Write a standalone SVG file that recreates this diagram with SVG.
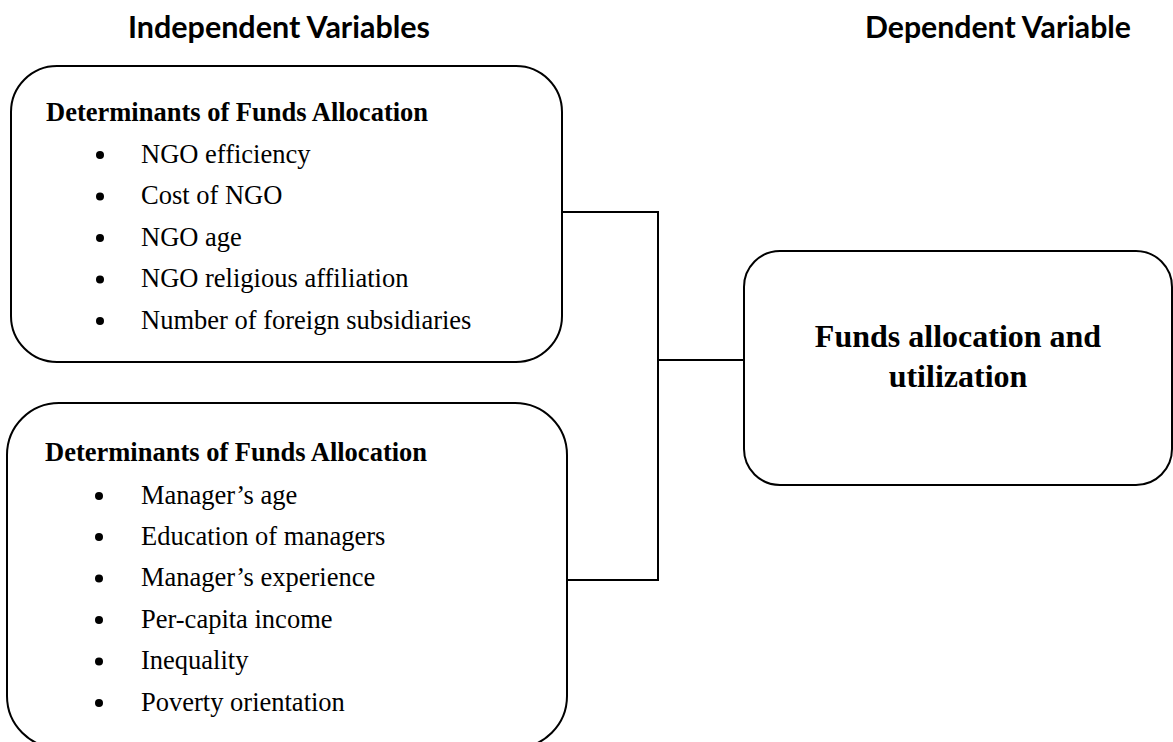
<svg xmlns="http://www.w3.org/2000/svg" width="1173" height="742" viewBox="0 0 1173 742">
<style>
.box{fill:#fff;stroke:#000;stroke-width:2}
.hdr{font-family:Lato,"Open Sans","Liberation Sans",sans-serif;font-weight:bold;font-size:31px;fill:#000}
.ttl{font-family:"Liberation Serif","Times New Roman",serif;font-weight:bold;font-size:26.5px;fill:#000}
.itm{font-family:"Liberation Serif","Times New Roman",serif;font-size:26.5px;fill:#000}
.big{font-family:"Liberation Serif","Times New Roman",serif;font-weight:bold;font-size:32px;fill:#000;text-anchor:middle}
.bul{fill:#000}
.con{fill:none;stroke:#000;stroke-width:2}
</style>
<rect width="1173" height="742" fill="#fff"/>
<g id="headers">
<text class="hdr" x="128" y="38" textLength="302" lengthAdjust="spacingAndGlyphs">Independent Variables</text>
<text class="hdr" x="865" y="38" textLength="266" lengthAdjust="spacingAndGlyphs">Dependent Variable</text>
</g>
<g id="connectors">
<polyline class="con" points="562,212 658,212 658,580 567,580"/>
<line class="con" x1="658" y1="360" x2="744" y2="360"/>
</g>
<g id="box1">
<rect class="box" x="11" y="66" width="551" height="296" rx="46" ry="46"/>
<text class="ttl" x="46" y="121">Determinants of Funds Allocation</text>
<circle class="bul" cx="100" cy="155" r="4"/><text class="itm" x="141" y="162.5">NGO efficiency</text>
<circle class="bul" cx="100" cy="196.5" r="4"/><text class="itm" x="141" y="204">Cost of NGO</text>
<circle class="bul" cx="100" cy="238" r="4"/><text class="itm" x="141" y="245.5">NGO age</text>
<circle class="bul" cx="100" cy="279.5" r="4"/><text class="itm" x="141" y="287">NGO religious affiliation</text>
<circle class="bul" cx="100" cy="321" r="4"/><text class="itm" x="141" y="328.5">Number of foreign subsidiaries</text>
</g>
<g id="box2">
<rect class="box" x="7" y="403" width="560" height="345" rx="52" ry="52"/>
<text class="ttl" x="45" y="461">Determinants of Funds Allocation</text>
<circle class="bul" cx="99" cy="496" r="4"/><text class="itm" x="141" y="503.5">Manager’s age</text>
<circle class="bul" cx="99" cy="537" r="4"/><text class="itm" x="141" y="544.5">Education of managers</text>
<circle class="bul" cx="99" cy="578.5" r="4"/><text class="itm" x="141" y="586">Manager’s experience</text>
<circle class="bul" cx="99" cy="620" r="4"/><text class="itm" x="141" y="627.5">Per-capita income</text>
<circle class="bul" cx="99" cy="661.5" r="4"/><text class="itm" x="141" y="669">Inequality</text>
<circle class="bul" cx="99" cy="703" r="4"/><text class="itm" x="141" y="710.5">Poverty orientation</text>
</g>
<g id="box3">
<rect class="box" x="744" y="251" width="428" height="234" rx="36" ry="36"/>
<text class="big" x="958" y="347">Funds allocation and</text>
<text class="big" x="958" y="387">utilization</text>
</g>
</svg>
